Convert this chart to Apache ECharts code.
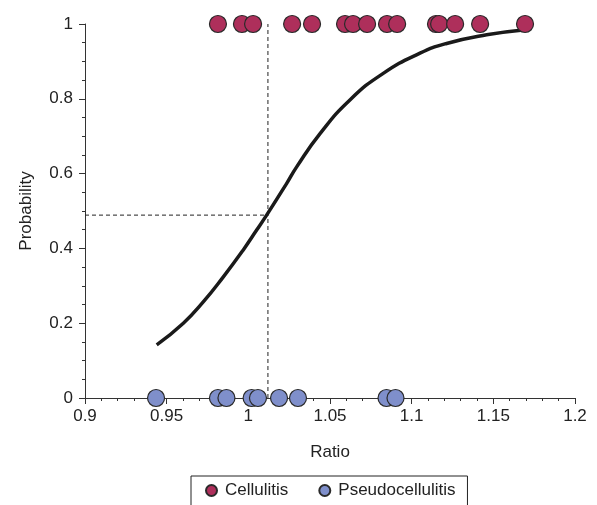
<!DOCTYPE html>
<html>
<head>
<meta charset="utf-8">
<script src="https://cdn.jsdelivr.net/npm/echarts@6/dist/echarts.min.js"></script>
<style>
  html, body { margin: 0; padding: 0; background: #fff; }
  #chart { width: 597px; height: 505px; }
</style>
</head>
<body>
<div id="chart"></div>
<script>
// observed ratios, outcome = 1
var cellulitisRatio = [0.9814, 0.9961, 1.0029, 1.0268, 1.0390, 1.0592, 1.0641, 1.0727,
  1.0849, 1.0911, 1.1149, 1.1168, 1.1266, 1.1419, 1.1694];
// observed ratios, outcome = 0
var pseudoRatio = [0.9435, 0.9814, 0.9866, 1.0020, 1.0059, 1.0188, 1.0304, 1.0846, 1.0901];
// fitted logistic curve
var curveX = [0.9439, 0.9602, 0.9724, 0.9847, 0.9969, 1.0051, 1.0112, 1.0235, 1.0296,
  1.0439, 1.0622, 1.0826, 1.1051, 1.1214, 1.1459, 1.1683];
var curveY = [0.142, 0.200, 0.257, 0.324, 0.396, 0.449, 0.489, 0.574, 0.618,
  0.707, 0.797, 0.868, 0.922, 0.948, 0.971, 0.984];
// cut-off
var cutoffRatio = 1.012;
var cutoffProb = 0.489;

var chart = echarts.init(document.getElementById('chart'));

var axisColor = '#333';
var font = 'Liberation Sans, Arial, sans-serif';

var option = {
  animation: false,
  textStyle: { fontFamily: font },
  grid: { left: 85, right: 22, top: 24, bottom: 107 },
  legend: {
    top: 476,
    left: 191,
    padding: [6, 12, 12, 14],
    itemGap: 30,
    itemWidth: 11,
    itemHeight: 11,
    borderColor: '#222',
    borderWidth: 1,
    textStyle: { fontSize: 17, color: '#222', fontFamily: font, padding: [0, 0, 0, 3] },
    data: [
      { name: 'Cellulitis', icon: 'circle' },
      { name: 'Pseudocellulitis', icon: 'circle' }
    ]
  },
  xAxis: {
    type: 'value',
    min: 0.9,
    max: 1.2,
    interval: 0.05,
    name: 'Ratio',
    nameLocation: 'middle',
    nameGap: 46,
    nameTextStyle: { fontSize: 17, color: '#222' },
    axisLine: { lineStyle: { color: axisColor, width: 1 } },
    axisTick: { show: true, length: 6, lineStyle: { color: axisColor } },
    minorTick: { show: true, splitNumber: 5, length: 3, lineStyle: { color: axisColor } },
    axisLabel: { fontSize: 17, color: '#222', margin: 10,
      formatter: function (v) { return +v.toFixed(2) + ''; } },
    splitLine: { show: false }
  },
  yAxis: {
    type: 'value',
    min: 0,
    max: 1,
    interval: 0.2,
    name: 'Probability',
    nameLocation: 'middle',
    nameGap: 50,
    nameTextStyle: { fontSize: 17, color: '#222' },
    axisLine: { show: true, lineStyle: { color: axisColor, width: 1 } },
    axisTick: { show: true, length: 6, lineStyle: { color: axisColor } },
    minorTick: { show: true, splitNumber: 4, length: 3, lineStyle: { color: axisColor } },
    axisLabel: { fontSize: 17, color: '#222', margin: 12,
      formatter: function (v) { return +v.toFixed(1) + ''; } },
    splitLine: { show: false }
  },
  series: [
    {
      name: 'cutoffV',
      type: 'line',
      data: [[cutoffRatio, 0], [cutoffRatio, 1]],
      symbol: 'none',
      lineStyle: { color: '#222', width: 1, type: [4, 3] },
      z: 1
    },
    {
      name: 'cutoffH',
      type: 'line',
      data: [[0.9, cutoffProb], [cutoffRatio, cutoffProb]],
      symbol: 'none',
      lineStyle: { color: '#222', width: 1, type: [4, 3] },
      z: 1
    },
    {
      name: 'fit',
      type: 'line',
      smooth: true,
      symbol: 'none',
      data: curveX.map(function (x, i) { return [x, curveY[i]]; }),
      lineStyle: { color: '#1a1a1a', width: 3.5 },
      z: 2
    },
    {
      name: 'Cellulitis',
      type: 'scatter',
      clip: false,
      symbolSize: 17,
      data: cellulitisRatio.map(function (x) { return [x, 1]; }),
      itemStyle: { color: '#AE2F5B', borderColor: '#2a2a2a', borderWidth: 1.2, opacity: 1 },
      z: 3
    },
    {
      name: 'Pseudocellulitis',
      type: 'scatter',
      clip: false,
      symbolSize: 17,
      data: pseudoRatio.map(function (x) { return [x, 0]; }),
      itemStyle: { color: '#7F8FCB', borderColor: '#2a2a2a', borderWidth: 1.2, opacity: 1 },
      z: 3
    }
  ]
};

chart.setOption(option);
</script>
</body>
</html>
